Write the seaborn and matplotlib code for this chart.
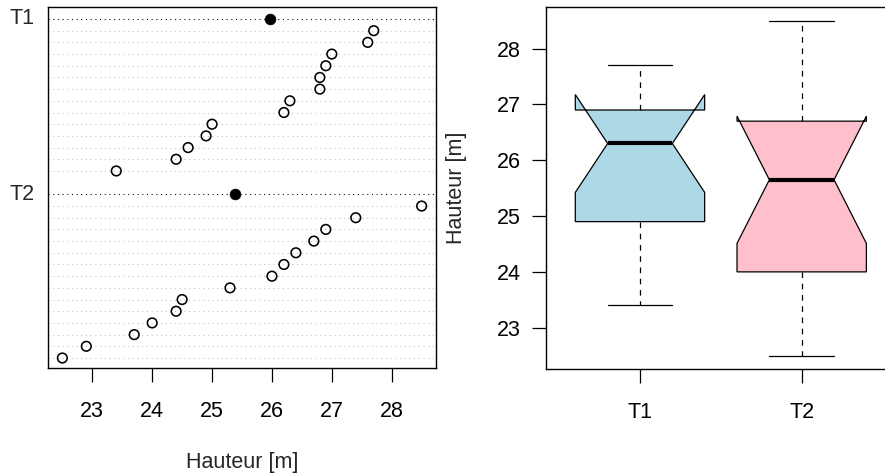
import numpy as np
import pandas as pd
import matplotlib
matplotlib.use("Agg")
import matplotlib.pyplot as plt
import matplotlib.transforms as mtransforms
import seaborn as sns

# ---- data ----
groups = ["T1", "T2"]
t1_values = [23.4, 24.4, 24.6, 24.9, 25.0, 26.2, 26.3, 26.8, 26.8, 26.9, 27.0, 27.6, 27.7]
t2_values = [22.5, 22.9, 23.7, 24.0, 24.4, 24.5, 25.3, 26.0, 26.2, 26.4, 26.7, 26.9, 27.4, 28.5]
x_ticks = [23, 24, 25, 26, 27, 28]
y_ticks = [23, 24, 25, 26, 27, 28]
axis_label = "Hauteur [m]"
box_colors = ["#ADD8E6", "#FFC0CB"]

sns.set_theme(style="white")
plt.rcParams["font.family"] = ["Liberation Sans", "DejaVu Sans"]
plt.rcParams["axes.edgecolor"] = "black"
plt.rcParams["axes.linewidth"] = 1.0
FS = 15.5

fig = plt.figure(figsize=(8.85, 4.74), dpi=100)
W, H = 885, 474

def pos(x0, y0, x1, y1):
    return [x0 / W, 1 - y1 / H, (x1 - x0) / W, (y1 - y0) / H]

# ---------- left: dot chart ----------
ax1 = fig.add_axes(pos(48, 7.3, 436, 367.7))
data_by_group = {"T1": t1_values, "T2": t2_values}
rows = []
label_rows = {}
cur = 0
for g in reversed(groups):
    vals = data_by_group[g]
    for v in vals:
        cur += 1
        rows.append({"group": g, "value": v, "row": cur})
    cur += 1
    label_rows[g] = cur
    cur += 1
df = pd.DataFrame(rows)

for r in df["row"]:
    ax1.axhline(r, color="#BEBEBE", linestyle=(0, (1, 3.5)), linewidth=0.75, zorder=1)
for g in groups:
    ax1.axhline(label_rows[g], color="black", linestyle=(0, (1, 3.5)), linewidth=0.75, zorder=1)

sns.scatterplot(data=df, x="value", y="row", ax=ax1, marker="o", s=48,
                facecolors="none", edgecolor="black", linewidth=1.15, zorder=3, legend=False)
means = pd.DataFrame({"group": groups,
                      "mean": [np.mean(data_by_group[g]) for g in groups],
                      "row": [label_rows[g] for g in groups]})
sns.scatterplot(data=means, x="mean", y="row", ax=ax1, marker="o", s=60,
                color="black", edgecolor="black", linewidth=0.5, zorder=4, legend=False)

ax1.set_xlim(22.26, 28.74)
ax1.set_ylim(0.17, 31.0)
ax1.set_xticks(x_ticks)
ax1.set_xticklabels([str(t) for t in x_ticks])
ax1.set_yticks([])
ax1.set_ylabel("")
ax1.set_xlabel(axis_label, fontsize=FS)
ax1.xaxis.set_label_coords(0.5, -0.264)
ax1.xaxis.label.set_verticalalignment("center")
ax1.tick_params(axis="x", direction="out", length=10, width=0.9, pad=14,
                labelsize=FS, colors="black", bottom=True)
trans = mtransforms.blended_transform_factory(ax1.transAxes, ax1.transData)
for g in groups:
    ax1.text(-0.035, label_rows[g], g, transform=trans, ha="right", va="center", fontsize=FS)
for s in ax1.spines.values():
    s.set_color("black")

# ---------- right: notched boxplot ----------
ax2 = fig.add_axes(pos(546.2, 7.3, 895.5, 369.0))

def fivenum(x):
    x = np.sort(np.asarray(x, dtype=float))
    n = len(x)
    n4 = np.floor((n + 3) / 2) / 2
    d = np.array([1, n4, (n + 1) / 2, n + 1 - n4, n]) - 1
    return 0.5 * (x[np.floor(d).astype(int)] + x[np.ceil(d).astype(int)])

stats = []
for g in groups:
    v = np.asarray(data_by_group[g])
    mn, q1, med, q3, mx = fivenum(v)
    iqr = q3 - q1
    lo = v[v >= q1 - 1.5 * iqr].min()
    hi = v[v <= q3 + 1.5 * iqr].max()
    half = 1.58 * iqr / np.sqrt(len(v))
    stats.append(dict(label=g, med=med, q1=q1, q3=q3, whislo=lo, whishi=hi,
                      cilo=med - half, cihi=med + half, fliers=[]))

bp = ax2.bxp(stats, positions=[1, 2], widths=0.8, capwidths=0.4, shownotches=True,
             patch_artist=True, showfliers=False, manage_ticks=False,
             boxprops=dict(edgecolor="black", linewidth=0.9),
             whiskerprops=dict(color="black", linewidth=0.9, linestyle=(0, (4.5, 4.5))),
             capprops=dict(color="black", linewidth=0.9),
             medianprops=dict(color="black", linewidth=3, solid_capstyle="butt"))
for patch, c in zip(bp["boxes"], box_colors):
    patch.set_facecolor(c)

ax2.set_xlim(0.42, 2.58)
ax2.set_ylim(22.26, 28.74)
ax2.set_xticks([1, 2])
ax2.set_xticklabels(groups)
ax2.set_yticks(y_ticks)
ax2.set_yticklabels([str(t) for t in y_ticks])
ax2.set_ylabel(axis_label, fontsize=FS)
ax2.yaxis.set_label_coords(-0.258, 0.5)
ax2.yaxis.label.set_horizontalalignment("center")
ax2.yaxis.label.set_verticalalignment("center")
ax2.tick_params(axis="both", direction="out", length=10, width=0.9,
                labelsize=FS, colors="black", left=True, bottom=True)
ax2.tick_params(axis="x", pad=14)
ax2.tick_params(axis="y", pad=8)
for s in ax2.spines.values():
    s.set_color("black")

fig.savefig("out.png", dpi=100)
